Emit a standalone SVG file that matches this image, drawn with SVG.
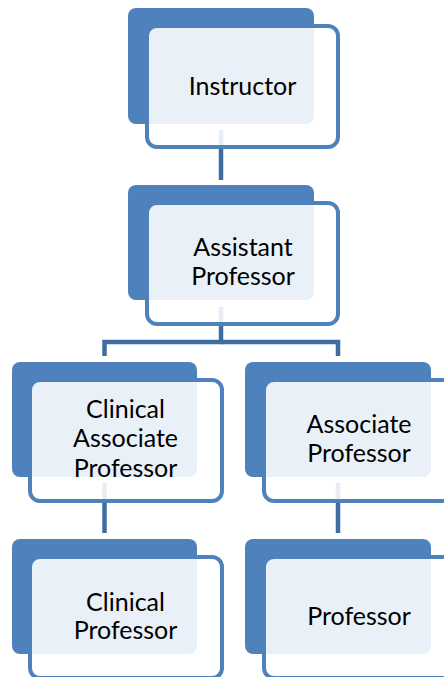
<svg xmlns="http://www.w3.org/2000/svg" width="444" height="677" viewBox="0 0 444 677">
<style>
.back{fill:#4f81bd}
.front{fill:#ffffff;fill-opacity:0.88;stroke:#4f81bd;stroke-width:4}
.conn{fill:none;stroke:#3f6ca2;stroke-width:4.5}
text{font-family:Lato,"Liberation Sans",sans-serif;font-size:25px;fill:#000000;text-anchor:middle}
</style>
<rect width="444" height="677" fill="#ffffff"/>
<g id="connectors">
<path class="conn" d="M221,130 V180"/>
<path class="conn" d="M221,307 V342 H104.5 V356"/>
<path class="conn" d="M221,342 H338 V356"/>
<path class="conn" d="M104.5,483 V533"/>
<path class="conn" d="M338,483 V533"/>
</g>
<g id="instructor">
<rect class="back" x="128" y="8" width="186" height="116" rx="8"/>
<rect class="front" x="147" y="26" width="191" height="121" rx="10"/>
<text x="242.5" y="95">Instructor</text>
</g>
<g id="assistant-professor">
<rect class="back" x="128" y="185" width="186" height="115" rx="8"/>
<rect class="front" x="147" y="203" width="191" height="121" rx="10"/>
<text x="243" y="256">Assistant</text>
<text x="243" y="285">Professor</text>
</g>
<g id="clinical-associate-professor">
<rect class="back" x="12" y="362" width="185" height="115" rx="8"/>
<rect class="front" x="30" y="380" width="192" height="121" rx="10"/>
<text x="125.5" y="418">Clinical</text>
<text x="125.5" y="447">Associate</text>
<text x="125.5" y="477">Professor</text>
</g>
<g id="associate-professor">
<rect class="back" x="245" y="362" width="186" height="115" rx="8"/>
<rect class="front" x="264" y="380" width="191" height="121" rx="10"/>
<text x="359" y="433">Associate</text>
<text x="359" y="462">Professor</text>
</g>
<g id="clinical-professor">
<rect class="back" x="12" y="539" width="185" height="115" rx="8"/>
<rect class="front" x="30" y="557" width="192" height="121" rx="10"/>
<text x="125.5" y="611">Clinical</text>
<text x="125.5" y="639">Professor</text>
</g>
<g id="professor">
<rect class="back" x="245" y="539" width="186" height="115" rx="8"/>
<rect class="front" x="264" y="557" width="191" height="121" rx="10"/>
<text x="359" y="625">Professor</text>
</g>
</svg>
